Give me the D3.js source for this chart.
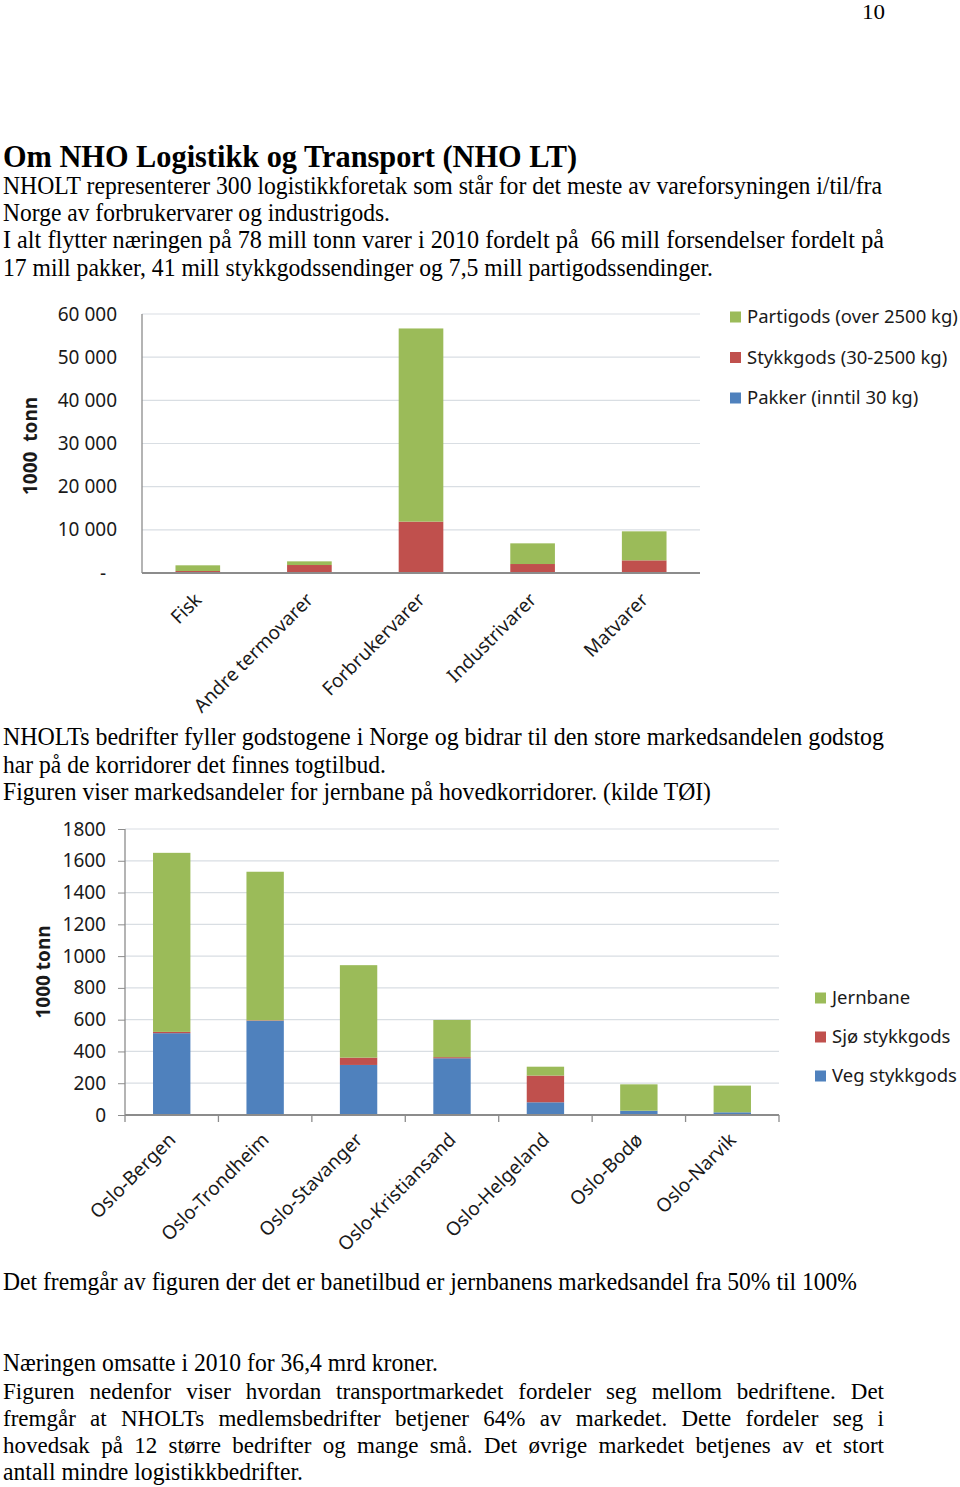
<!DOCTYPE html>
<html><head><meta charset="utf-8">
<script src="https://cdn.jsdelivr.net/npm/d3@7"></script>
<style>body{margin:0;background:#fff} svg{display:block}</style>
</head><body><svg id="c" width="960" height="1487"></svg>
<script>
// ---------- data ----------
const topCategories = ["Fisk", "Andre termovarer", "Forbrukervarer", "Industrivarer", "Matvarer"];
const topSeries = ["Pakker (inntil 30 kg)", "Stykkgods (30-2500 kg)", "Partigods (over 2500 kg)"];
const pakker    = [0, 0, 0, 0, 0];
const stykkgods = [460, 1850, 11900, 2080, 2930];
const partigods = [1320, 850, 44750, 4790, 6720];
const topTicks  = [0, 10000, 20000, 30000, 40000, 50000, 60000];

const corridors = ["Oslo-Bergen", "Oslo-Trondheim", "Oslo-Stavanger", "Oslo-Kristiansand", "Oslo-Helgeland", "Oslo-Bodø", "Oslo-Narvik"];
const bottomSeries = ["Veg stykkgods", "Sjø stykkgods", "Jernbane"];
const veg      = [515, 593, 315, 357, 80, 27, 17];
const sjo      = [8, 3, 46, 7, 168, 0, 0];
const jernbane = [1127, 935, 582, 234, 56, 166, 168];
const bottomTicks = [0, 200, 400, 600, 800, 1000, 1200, 1400, 1600, 1800];

// ---------- setup ----------
const svg = d3.select("#c");
const serif = "'Liberation Serif','Times New Roman',serif";
const sans = "'Noto Sans','Open Sans',sans-serif";
const colors = ["#4F81BD", "#C0504D", "#9BBB59"];
const gridColor = "#D9DEE3";
const axisColor = "#8C8C8C";
const fs = 19;

function line(str, x, y, size, width, bold) {
  const t = svg.append("text").attr("x", x).attr("y", y)
    .attr("font-family", serif).attr("font-size", size)
    .attr("font-weight", bold ? "bold" : "normal").attr("fill", "#000")
    .style("white-space", "pre").text(str);
  if (width) t.attr("textLength", width).attr("lengthAdjust", "spacingAndGlyphs");
  return t;
}
function justLine(str, y, x0, x1, size) {
  const words = str.split(" ");
  const nodes = words.map(w => svg.append("text").attr("y", y)
    .attr("font-family", serif).attr("font-size", size).attr("fill", "#000").text(w));
  const widths = nodes.map(n => n.node().getComputedTextLength());
  const gap = (x1 - x0 - d3.sum(widths)) / (words.length - 1);
  let x = x0;
  nodes.forEach((n, i) => { n.attr("x", x); x += widths[i] + gap; });
}

// ---------- page text ----------
line("10", 862, 19, 22, 23);
line("Om NHO Logistikk og Transport (NHO LT)", 3, 167, 31, 574, true);
line("NHOLT representerer 300 logistikkforetak som står for det meste av vareforsyningen i/til/fra", 3, 194, 24.5, 879);
line("Norge av forbrukervarer og industrigods.", 3, 221, 24.5, 387);
line("I alt flytter næringen på 78 mill tonn varer i 2010 fordelt på  66 mill forsendelser fordelt på", 3, 248, 24.5, 881);
line("17 mill pakker, 41 mill stykkgodssendinger og 7,5 mill partigodssendinger.", 3, 276, 24.5, 710);

line("NHOLTs bedrifter fyller godstogene i Norge og bidrar til den store markedsandelen godstog", 3, 745, 24.5, 881);
line("har på de korridorer det finnes togtilbud.", 3, 773, 24.5, 383);
line("Figuren viser markedsandeler for jernbane på hovedkorridorer. (kilde TØI)", 3, 800, 24.5, 708);

line("Det fremgår av figuren der det er banetilbud er jernbanens markedsandel fra 50% til 100%", 3, 1290, 24.5, 854);
line("Næringen omsatte i 2010 for 36,4 mrd kroner.", 3, 1371, 24.5, 435);
justLine("Figuren nedenfor viser hvordan transportmarkedet fordeler seg mellom bedriftene. Det", 1399, 3, 884, 23);
justLine("fremgår at NHOLTs medlemsbedrifter betjener 64% av markedet. Dette fordeler seg i", 1426, 3, 884, 23);
justLine("hovedsak på 12 større bedrifter og mange små. Det øvrige markedet betjenes av et stort", 1453, 3, 884, 23);
line("antall mindre logistikkbedrifter.", 3, 1480, 24.5, 300);

// ---------- generic stacked chart ----------
function stackedChart(opt) {
  const g = svg.append("g");
  const x = d3.scaleBand().domain(opt.categories).range([opt.x0, opt.x1])
    .paddingInner(0.6).paddingOuter(0.3);
  const y = d3.scaleLinear().domain([0, d3.max(opt.ticks)]).range([opt.y0, opt.y1]);

  // gridlines
  g.append("g").selectAll("line").data(opt.ticks.filter(d => d > 0)).join("line")
    .attr("x1", opt.x0).attr("x2", opt.x1)
    .attr("y1", d => y(d)).attr("y2", d => y(d))
    .attr("stroke", gridColor).attr("stroke-width", 1.2);

  // y axis labels
  const ya = d3.axisLeft(y).tickValues(opt.ticks).tickFormat(opt.fmt)
    .tickSizeInner(opt.yTick).tickSizeOuter(0).tickPadding(opt.yPad);
  const yg = g.append("g").attr("transform", `translate(${opt.x0},0)`).call(ya);
  yg.select(".domain").remove();
  yg.selectAll(".tick line").attr("stroke", axisColor);
  yg.selectAll(".tick text").attr("font-family", sans).attr("font-size", fs).attr("fill", "#1a1a1a")
    .attr("dx", d => d === 0 ? opt.zeroDx : 0);

  // bars
  const rows = opt.categories.map((c, i) => {
    const r = { cat: c };
    opt.keys.forEach((k, j) => r[k] = opt.values[j][i]);
    return r;
  });
  const stacked = d3.stack().keys(opt.keys)(rows);
  g.append("g").selectAll("g").data(stacked).join("g")
    .attr("fill", (d, i) => colors[i])
    .selectAll("rect").data(d => d).join("rect")
    .attr("x", d => x(d.data.cat)).attr("width", x.bandwidth())
    .attr("y", d => y(d[1])).attr("height", d => Math.max(0, y(d[0]) - y(d[1])));

  // axis lines
  g.append("line").attr("x1", opt.x0).attr("x2", opt.x0).attr("y1", opt.y1).attr("y2", opt.y0)
    .attr("stroke", axisColor).attr("stroke-width", 1.3);
  g.append("line").attr("x1", opt.x0).attr("x2", opt.x1).attr("y1", opt.y0).attr("y2", opt.y0)
    .attr("stroke", axisColor).attr("stroke-width", 1.8);
  if (opt.xTicks) {
    const step = x.step();
    g.append("g").selectAll("line").data(d3.range(opt.categories.length + 1)).join("line")
      .attr("x1", i => opt.x0 + i * step).attr("x2", i => opt.x0 + i * step)
      .attr("y1", opt.y0).attr("y2", opt.y0 + 7)
      .attr("stroke", axisColor).attr("stroke-width", 1.3);
  }

  // rotated category labels
  g.append("g").selectAll("text").data(opt.categories).join("text")
    .attr("transform", d => `translate(${x(d) + x.bandwidth() / 2 + 5},${opt.y0 + opt.labDy}) rotate(-45)`)
    .attr("text-anchor", "end").attr("font-family", sans).attr("font-size", fs).attr("fill", "#1a1a1a")
    .text(d => d);

  // axis title
  g.append("text").attr("transform", `translate(${opt.titleX},${opt.titleY}) rotate(-90)`)
    .attr("text-anchor", "middle").attr("font-family", sans).attr("font-weight", "bold")
    .attr("font-size", fs).attr("fill", "#1a1a1a").style("white-space", "pre").text(opt.title);

  // legend (top entry = last series)
  const leg = g.append("g");
  opt.series.slice().reverse().forEach((s, i) => {
    const cy = opt.legY + i * opt.legStep;
    leg.append("rect").attr("x", opt.legX).attr("y", cy - 5.5).attr("width", 11).attr("height", 11)
      .attr("fill", colors[opt.series.length - 1 - i]);
    leg.append("text").attr("x", opt.legX + 17).attr("y", cy).attr("dy", "0.35em")
      .attr("font-family", sans).attr("font-size", 18.5).attr("fill", "#1a1a1a").text(s);
  });
}

stackedChart({
  categories: topCategories, keys: ["pakker", "stykkgods", "partigods"],
  values: [pakker, stykkgods, partigods], series: topSeries, ticks: topTicks,
  x0: 142, x1: 700, y0: 573, y1: 314,
  fmt: d => d === 0 ? "-" : d3.format(",")(d).replace(/,/g, " "),
  yTick: 0, yPad: 25, zeroDx: -11, xTicks: false, labDy: 28,
  title: "1000  tonn", titleX: 37, titleY: 446,
  legX: 730, legY: 317, legStep: 40.5
});

stackedChart({
  categories: corridors, keys: ["veg", "sjo", "jernbane"],
  values: [veg, sjo, jernbane], series: bottomSeries, ticks: bottomTicks,
  x0: 125, x1: 779, y0: 1115, y1: 829,
  fmt: d => String(d),
  yTick: 7, yPad: 12, zeroDx: 0, xTicks: true, labDy: 26,
  title: "1000 tonn", titleX: 50, titleY: 972,
  legX: 815, legY: 998, legStep: 39
});
</script>
</body></html>
